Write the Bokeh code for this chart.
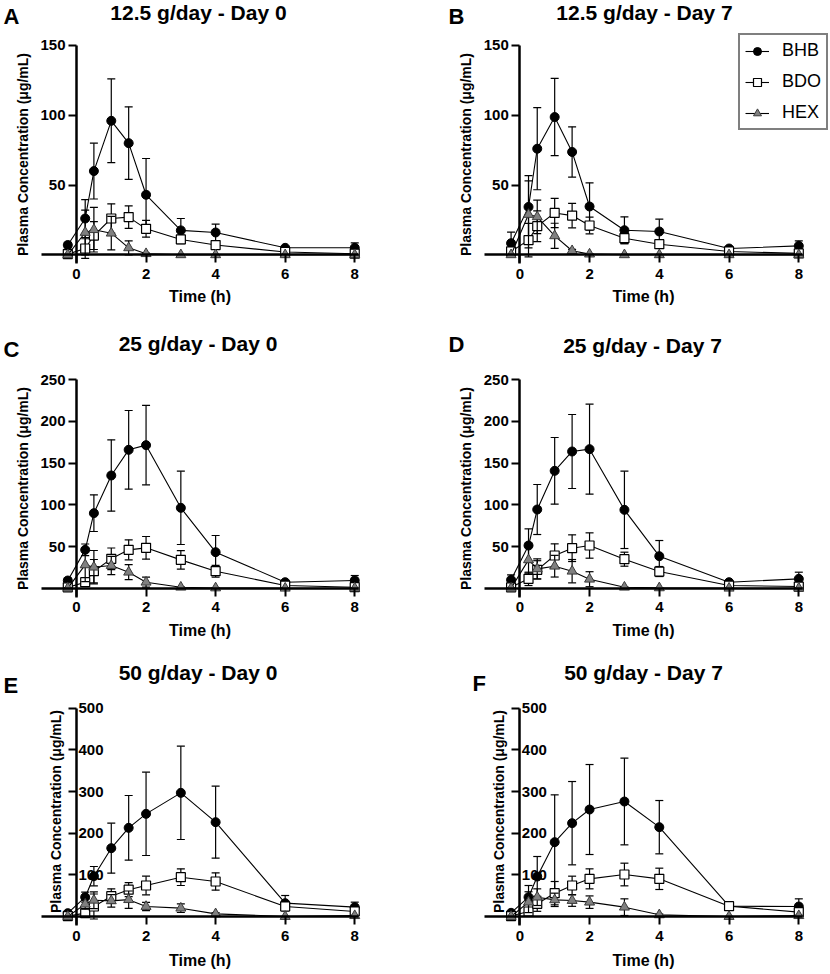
from bokeh.plotting import figure
from bokeh.models import LinearAxis, FixedTicker, Range1d, Label, Legend, LegendItem
from bokeh.layouts import column, row
from bokeh.embed import file_html
from bokeh.resources import INLINE

FONT = "Liberation Sans"

# ---------------- data ----------------
time_h = [-0.25, 0.25, 0.5, 1, 1.5, 2, 3, 4, 6, 8]
x_ticks = [0, 2, 4, 6, 8]
series_names = ["BHB", "BDO", "HEX"]
y_label = "Plasma Concentration (\u03bcg/mL)"
x_label = "Time (h)"

panel_letters = ["A", "B", "C", "D", "E", "F"]
panel_titles = ["12.5 g/day - Day 0", "12.5 g/day - Day 7",
                "25 g/day - Day 0", "25 g/day - Day 7",
                "50 g/day - Day 0", "50 g/day - Day 7"]

ticks_125 = [50, 100, 150]
ticks_25 = [50, 100, 150, 200, 250]
ticks_50 = [100, 200, 300, 400, 500]

A_bhb = [7, 26, 60, 96, 80, 43, 17.5, 16, 5, 5]
A_bhb_sd = [2, 13.6, 20, 30, 26, 26, 8.5, 6, 1, 3.5]
A_bdo = [0.5, 4.5, 13.8, 26, 27, 18.6, 11, 7, 2, 0.8]
A_bdo_sd = [0.5, 7, 10, 10.5, 8, 6, 3, 1.5, 0.5, 0.5]
A_hex = [0, 16, 18, 15.5, 5, 0.8, 0, 0, 0, 0]
A_hex_sd = [0, 16, 16, 12, 5, 0.5, 0, 0, 0, 0]

B_bhb = [8.3, 34.3, 76, 98.7, 73.7, 34.6, 17.6, 16.7, 4.5, 6.4]
B_bhb_sd = [8, 22.5, 29.4, 27.7, 18, 17, 9.6, 8.8, 1, 3.6]
B_bdo = [2.4, 10.5, 20.5, 30, 28.1, 21, 11.9, 7.6, 2.4, 1]
B_bdo_sd = [1, 12, 11, 10.5, 8.8, 6, 4, 2, 0.5, 0.5]
B_hex = [0, 28.9, 27.2, 13.6, 2.9, 0.5, 0, 0, 0, 0]
B_hex_sd = [0, 24, 12, 9, 1, 0.3, 0, 0, 0, 0]

C_bhb = [9.2, 46, 90, 135.2, 166, 171.6, 96.4, 43.2, 7.2, 9.2]
C_bhb_sd = [3, 7, 22, 42.8, 47.2, 47.6, 44, 20, 2, 6]
C_bdo = [1, 7.2, 20.4, 35.2, 46, 48.4, 34, 20.4, 3.2, 1.2]
C_bdo_sd = [0.5, 5, 14, 13, 12, 13.6, 11, 7, 1, 4]
C_hex = [0, 28, 25.2, 27.2, 19.2, 7.2, 1.2, 0.3, 0, 0]
C_hex_sd = [0, 20, 20, 11, 9, 6, 0.5, 0.3, 0, 0]

D_bhb = [10, 51.2, 94.4, 140.8, 164, 166.8, 94, 38.4, 7.2, 11.2]
D_bhb_sd = [6, 20, 30, 40, 44.4, 54, 46.4, 18.8, 1, 8]
D_bdo = [1, 11.2, 22, 39.2, 48, 51.2, 34.8, 20, 3.2, 2]
D_bdo_sd = [0.5, 8, 11, 14, 16, 15.2, 8.4, 6, 1, 4]
D_hex = [0, 34, 23.2, 26.4, 20.4, 10.8, 1.2, 0.4, 0, 0]
D_hex_sd = [0, 16, 12, 13, 14, 9, 0.5, 0.3, 0, 0]

E_bhb = [8, 46.4, 96.8, 164, 212.8, 246.4, 296.8, 226.4, 32, 22.4]
E_bhb_sd = [3, 12, 23.2, 60, 77.6, 100, 112, 86.4, 18.4, 12]
E_bdo = [1, 8, 24, 48.8, 64.4, 74.4, 94.4, 84, 24, 12]
E_bdo_sd = [0.5, 6, 30, 17.6, 16.8, 22.4, 20, 20.8, 10, 8]
E_hex = [0, 29.6, 39, 37.6, 40.4, 24, 20, 6.4, 0, 2]
E_hex_sd = [0, 12, 20, 15, 20.8, 10, 10.4, 3, 0, 1]

F_bhb = [8.8, 46.4, 96, 178.4, 224, 256.8, 276, 214.4, 24.8, 24]
F_bhb_sd = [4, 28, 48, 113.6, 100, 108, 104, 64, 8, 18.4]
F_bdo = [1, 12, 30.4, 56, 74.4, 90.4, 100.8, 90.4, 24.8, 10.4]
F_bdo_sd = [0.5, 8, 18, 28, 22.4, 24, 27.2, 25.6, 6, 5]
F_hex = [0, 34.4, 46.4, 40, 38.4, 34.4, 22.4, 4, 0, 2]
F_hex_sd = [0, 25, 20, 16, 14, 15, 20, 2, 0, 1]

panel_data = [
    (A_bhb, A_bhb_sd, A_bdo, A_bdo_sd, A_hex, A_hex_sd),
    (B_bhb, B_bhb_sd, B_bdo, B_bdo_sd, B_hex, B_hex_sd),
    (C_bhb, C_bhb_sd, C_bdo, C_bdo_sd, C_hex, C_hex_sd),
    (D_bhb, D_bhb_sd, D_bdo, D_bdo_sd, D_hex, D_hex_sd),
    (E_bhb, E_bhb_sd, E_bdo, E_bdo_sd, E_hex, E_hex_sd),
    (F_bhb, F_bhb_sd, F_bdo, F_bdo_sd, F_hex, F_hex_sd),
]
panel_ticks = [ticks_125, ticks_125, ticks_25, ticks_25, ticks_50, ticks_50]
panel_ymax = [150, 150, 250, 250, 500, 500]

# ---------------- layout geometry (pixels) ----------------
COL_W = 415
ROW_H = [318, 330, 326]
# x: canvas px of x=0 and px per hour, per column
COL_X0 = [76.0, 104.3]
COL_XPPU = [34.78, 34.875]
# y: canvas px of y=0 and px per unit, per row
ROW_Y0 = [254.3, 269.7, 268.0]
ROW_YPPU = [1.3956, 0.8336, 0.4166]
AXIS_TAIL_PX = 9  # axis line extends below zero
X_AXIS_BOUNDS = (-1, 8.12)

# title centres and letter (left, centre-y) in canvas px
title_pos = [(198, 12), (229, 12), (197.5, 25), (227, 27), (197.5, 24), (228, 24)]
letter_pos = [(3, 16), (33, 16), (3, 30.5), (33, 25.5), (3, 36.5), (57, 34.5)]

styles = {
    "BHB": dict(marker="circle", size=9, fill_color="black", line_color="black", line_width=1),
    "BDO": dict(marker="square", size=9, fill_color="white", line_color="black", line_width=1.2),
    "HEX": dict(marker="triangle", size=10, fill_color="#808080", line_color="#3a3a3a", line_width=1),
}


def style_axis(ax, label_size="15px"):
    ax.axis_line_width = 2.5
    ax.axis_line_color = "black"
    ax.major_tick_line_width = 2
    ax.major_tick_line_color = "black"
    ax.major_tick_out = 8
    ax.major_tick_in = 0
    ax.minor_tick_out = 0
    ax.minor_tick_in = 0
    ax.major_label_text_font = FONT
    ax.major_label_text_font_style = "bold"
    ax.major_label_text_font_size = label_size
    ax.major_label_text_color = "black"
    ax.axis_label_text_font = FONT
    ax.axis_label_text_font_style = "bold"
    ax.axis_label_text_color = "black"


def make_panel(i):
    r, c = divmod(i, 2)
    W, H = COL_W, ROW_H[r]
    x0, xppu = COL_X0[c], COL_XPPU[c]
    y0, yppu = ROW_Y0[r], ROW_YPPU[r]
    xr = Range1d(-x0 / xppu, (W - x0) / xppu)
    yr = Range1d((y0 - H) / yppu, y0 / yppu)

    def px2x(px):
        return xr.start + px / W * (xr.end - xr.start)

    def py2y(py):
        return yr.end - py / H * (yr.end - yr.start)

    p = figure(width=W, height=H, x_range=xr, y_range=yr, output_backend="svg",
               toolbar_location=None, title_location=None, x_axis_type=None, y_axis_type=None,
               min_border=0, outline_line_color=None)
    p.background_fill_color = "white"
    p.border_fill_color = "white"

    ymax = panel_ymax[i]
    ybot = -AXIS_TAIL_PX / yppu

    xa = LinearAxis(fixed_location=0, bounds=X_AXIS_BOUNDS,
                    ticker=FixedTicker(ticks=x_ticks), axis_label=x_label)
    style_axis(xa)
    xa.major_label_standoff = 6
    xa.axis_label_text_font_size = "16px"
    xa.axis_label_standoff = 6 if r < 2 else 8
    p.add_layout(xa, "below")

    if r < 2:
        ya = LinearAxis(fixed_location=0, bounds=(ybot, ymax),
                        ticker=FixedTicker(ticks=panel_ticks[i]), axis_label=y_label)
        style_axis(ya)
        ya.major_label_standoff = 3
        ya.axis_label_text_font_size = "14px"
        ya.axis_label_standoff = 6
        p.add_layout(ya, "left")
    else:
        ya = LinearAxis(fixed_location=0, bounds=(ybot, ymax),
                        ticker=FixedTicker(ticks=panel_ticks[i]))
        style_axis(ya)
        ya.major_tick_in = 8
        ya.major_tick_out = 0
        ya.major_label_standoff = 2
        p.add_layout(ya, "right")
        yl = LinearAxis(fixed_location=0, ticker=FixedTicker(ticks=[]), axis_label=y_label)
        style_axis(yl)
        yl.axis_line_color = None
        yl.major_tick_out = 0
        yl.axis_label_text_font_size = "14px"
        yl.axis_label_standoff = 13
        p.add_layout(yl, "left")

    data = panel_data[i]
    rends = {}
    for k, name in enumerate(series_names):
        vals, sds = data[2 * k], data[2 * k + 1]
        lo = [v - s for v, s in zip(vals, sds)]
        hi = [v + s for v, s in zip(vals, sds)]
        p.segment(x0=time_h, y0=lo, x1=time_h, y1=hi, line_color="black", line_width=1.2)
        p.scatter(x=time_h + time_h, y=lo + hi, marker="dash", size=8,
                  line_color="black", line_width=1.2)
        lr = p.line(x=time_h, y=vals, line_color="black", line_width=1.1)
        sr = p.scatter(x=time_h, y=vals, **styles[name])
        rends[name] = [lr, sr]

    tx, ty = title_pos[i]
    p.add_layout(Label(x=px2x(tx), y=py2y(ty), text=panel_titles[i], text_font=FONT,
                       text_font_style="bold", text_font_size="21px", text_align="center",
                       text_baseline="middle", text_color="black"))
    lx, ly = letter_pos[i]
    p.add_layout(Label(x=px2x(lx), y=py2y(ly), text=panel_letters[i], text_font=FONT,
                       text_font_style="bold", text_font_size="22px", text_align="left",
                       text_baseline="middle", text_color="black"))

    if i == 1:
        leg = Legend(items=[LegendItem(label=n, renderers=rends[n]) for n in series_names],
                     location=(323, H - 130), margin=0, padding=5, spacing=10,
                     glyph_width=24, glyph_height=20, label_height=20, label_standoff=13,
                     label_text_font=FONT, label_text_font_size="18px", label_text_color="black",
                     border_line_color="black", border_line_width=2, background_fill_alpha=1)
        p.add_layout(leg)
    return p


panels = [make_panel(i) for i in range(6)]
layout = column(row(panels[0], panels[1]), row(panels[2], panels[3]), row(panels[4], panels[5]))

open("out.html", "w").write(file_html(layout, INLINE))
